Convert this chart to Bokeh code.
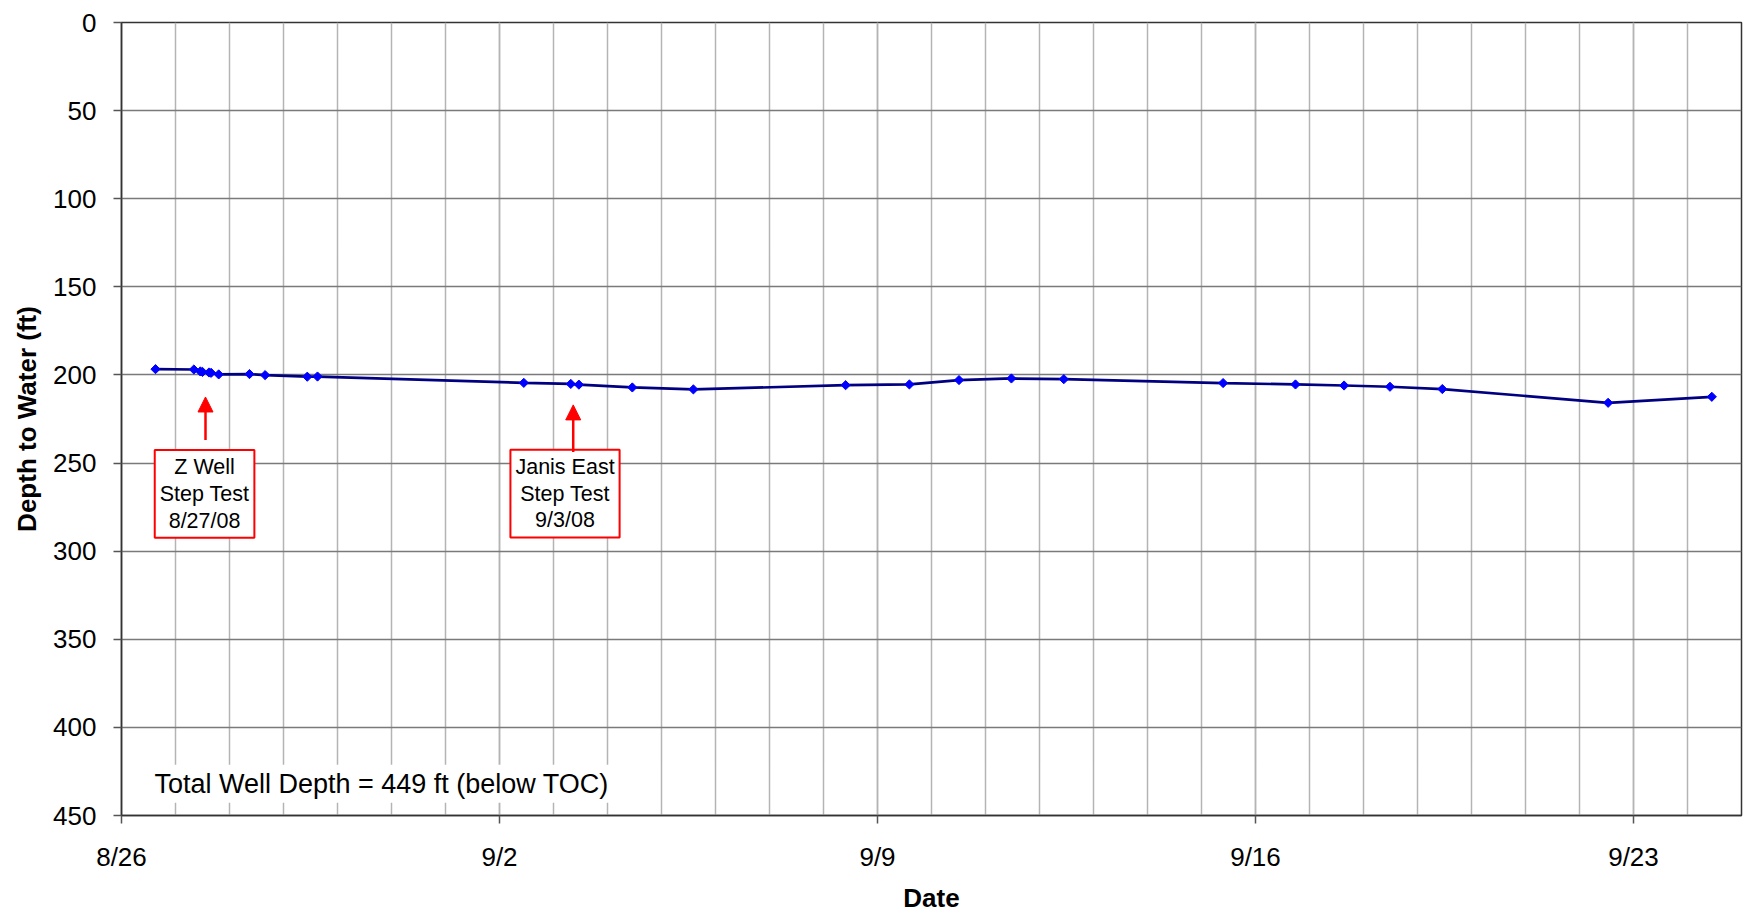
import pandas as pd
from bokeh.plotting import figure
from bokeh.models import (Range1d, FixedTicker, CustomJSTickFormatter, Arrow,
                          NormalHead, ColumnDataSource)
from bokeh.core.properties import value
from bokeh.embed import file_html
from bokeh.resources import INLINE

# ---------------- data ----------------
dates = [
    "2008-08-26 15:07", "2008-08-27 08:10", "2008-08-27 11:02", "2008-08-27 12:00",
    "2008-08-27 14:53", "2008-08-27 15:50", "2008-08-27 19:12", "2008-08-28 08:53",
    "2008-08-28 15:50", "2008-08-29 10:34", "2008-08-29 15:07", "2008-09-02 10:48",
    "2008-09-03 07:41", "2008-09-03 11:17", "2008-09-04 11:02", "2008-09-05 14:10",
    "2008-09-08 09:50", "2008-09-09 14:10", "2008-09-10 12:14", "2008-09-11 11:31",
    "2008-09-12 10:48", "2008-09-15 09:36", "2008-09-16 17:46", "2008-09-17 15:22",
    "2008-09-18 11:46", "2008-09-19 11:02", "2008-09-22 12:43", "2008-09-24 10:48",
]
depth_ft = [
    196.7, 196.9, 198.0, 198.3, 198.6, 198.8, 199.7, 199.5,
    200.1, 201.0, 200.9, 204.5, 205.1, 205.5, 207.1, 208.2,
    205.8, 205.4, 202.9, 202.0, 202.4, 204.6, 205.4, 206.0,
    206.7, 208.0, 215.8, 212.4,
]
x_start, x_end = "2008-08-26", "2008-09-25"
major_dates = ["2008-08-26", "2008-09-02", "2008-09-09", "2008-09-16", "2008-09-23"]
y_ticks = [0, 50, 100, 150, 200, 250, 300, 350, 400, 450]

# annotations (data units)
box_texts = ["Z Well\nStep Test\n8/27/08", "Janis East\nStep Test\n9/3/08"]
box_x = ["2008-08-27 12:55", "2008-09-03 05:07"]
box_y = [267.5, 267.3]
arrow_x = ["2008-08-27 13:20", "2008-09-03 08:46"]
arrow_tail = [236.9, 243.7]
arrow_tip = [212.5, 217.0]
note_text = "Total Well Depth = 449 ft (below TOC)"
note_x = "2008-08-26 12:50"
note_y = 432.0

def ms(s):
    return pd.Timestamp(s).value / 1e6

FONT = "Liberation Sans"

p = figure(width=1744, height=915, x_axis_type="datetime",
           x_range=Range1d(ms(x_start), ms(x_end)),
           y_range=Range1d(450, 0),
           output_backend="svg", toolbar_location=None,
           min_border_left=121, min_border_right=3,
           min_border_top=22, min_border_bottom=99)
p.background_fill_color = "white"
p.border_fill_color = "white"
p.outline_line_color = "#333333"
p.outline_line_width = 1.5

# x axis
day_ms = [ms(d) for d in pd.date_range(x_start, x_end, freq="D")]
xt = FixedTicker(ticks=[ms(d) for d in major_dates], minor_ticks=day_ms)
p.xaxis.ticker = xt
p.xgrid.ticker = xt
p.xaxis.formatter = CustomJSTickFormatter(code="""
const d = new Date(tick);
return (d.getUTCMonth() + 1) + "/" + d.getUTCDate();
""")
p.xgrid.grid_line_color = "#b4b4b4"
p.xgrid.minor_grid_line_color = "#b4b4b4"
p.xgrid.grid_line_width = 1.5
p.xgrid.minor_grid_line_width = 1.5

# y axis
yt = FixedTicker(ticks=y_ticks)
p.yaxis.ticker = yt
p.ygrid.ticker = yt
p.ygrid.grid_line_color = "#7a7a7a"
p.ygrid.grid_line_width = 1.5

for ax in (p.xaxis, p.yaxis):
    ax.axis_line_color = "#333333"
    ax.axis_line_width = 1.5
    ax.major_tick_line_color = "#555555"
    ax.major_tick_line_width = 1.5
    ax.major_tick_out = 8
    ax.major_tick_in = 0
    ax.minor_tick_line_color = None
    ax.major_label_text_font = FONT
    ax.major_label_text_font_size = "26px"
    ax.major_label_text_color = "black"
    ax.axis_label_text_font = FONT
    ax.axis_label_text_font_size = "26px"
    ax.axis_label_text_font_style = "bold"
    ax.axis_label_text_color = "black"

p.xaxis.axis_label = "Date"
p.yaxis.axis_label = "Depth to Water (ft)"
p.xaxis.major_label_standoff = 18
p.xaxis.axis_label_standoff = 8
p.yaxis.major_label_standoff = 17
p.yaxis.axis_label_standoff = 8

# series
src = ColumnDataSource(dict(x=pd.to_datetime(dates), y=depth_ft))
p.line("x", "y", source=src, line_color="#000080", line_width=2.7)
p.scatter("x", "y", source=src, marker="square", angle=0.785398, size=6.5,
          fill_color="#0000FF", line_color="#0000FF")

# arrows
for ax_, t0, t1 in zip(arrow_x, arrow_tail, arrow_tip):
    p.add_layout(Arrow(end=NormalHead(size=15, fill_color="red", line_color="red", line_width=1),
                       x_start=ms(ax_), y_start=t0, x_end=ms(ax_), y_end=t1,
                       line_color="red", line_width=2.5))

# annotation boxes
bsrc = ColumnDataSource(dict(x=[ms(v) for v in box_x], y=box_y, t=box_texts))
p.text("x", "y", text="t", source=bsrc, text_font=value(FONT), text_font_size="21.5px",
       text_align="center", text_baseline="middle", text_line_height=1.12,
       text_color="black", background_fill_color="white",
       border_line_color="red", border_line_width=2, padding=5)

nsrc = ColumnDataSource(dict(x=[ms(note_x)], y=[note_y], t=[note_text]))
p.text("x", "y", text="t", source=nsrc, text_font=value(FONT), text_font_size="27px",
       text_align="left", text_baseline="middle", text_color="black",
       background_fill_color="white", padding=4)

open("out.html", "w").write(file_html(p, INLINE))
